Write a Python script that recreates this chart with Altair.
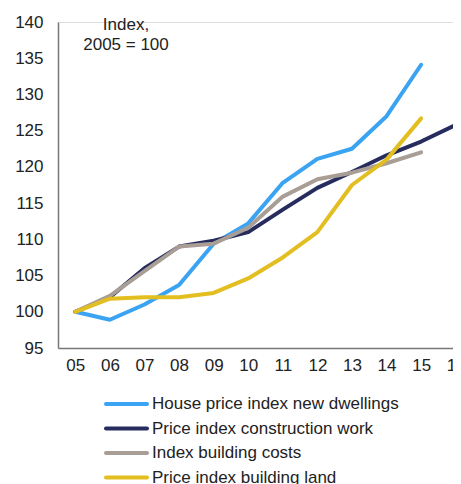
import altair as alt
import pandas as pd

years = ["05", "06", "07", "08", "09", "10", "11", "12", "13", "14", "15", "16"]
series_names = [
    "House price index new dwellings",
    "Price index construction work",
    "Index building costs",
    "Price index building land",
]
house = [100, 98.9, 101.0, 103.7, 109.4, 112.2, 117.8, 121.1, 122.5, 127.0, 134.1, None]
construction = [100, 102.0, 106.0, 109.0, 109.8, 111.0, 114.1, 117.1, 119.3, 121.6, 123.5, 125.8]
costs = [100, 102.2, 105.6, 109.0, 109.4, 111.6, 115.9, 118.3, 119.2, 120.5, 122.0, None]
land = [100, 101.8, 102.0, 102.0, 102.6, 104.6, 107.5, 111.0, 117.5, 121.0, 126.7, None]
colors = ["#3aa3f2", "#262c5e", "#a89e96", "#e3be20"]
y_ticks = [95, 100, 105, 110, 115, 120, 125, 130, 135, 140]
note_lines = ["Index,", "2005 = 100"]

rows = []
for name, vals in zip(series_names, [house, construction, costs, land]):
    for yr, v in zip(years, vals):
        if v is not None:
            rows.append({"year": yr, "value": v, "series": name})
df = pd.DataFrame(rows)

FONT = "Liberation Sans"
FS = 17
color_scale = alt.Scale(domain=series_names, range=colors)

lines = alt.Chart(df).mark_line(strokeWidth=4, strokeJoin="round", strokeCap="round").encode(
    x=alt.X("year:O", scale=alt.Scale(domain=years, range=[0, 415], padding=0.5),
            axis=alt.Axis(title=None, labelAngle=0, ticks=False, labelFontSize=FS,
                          labelColor="#222", labelPadding=9, domainColor="#777",
                          domainWidth=1.5, labelFont=FONT)),
    y=alt.Y("value:Q", scale=alt.Scale(domain=[95, 140], nice=False, zero=False),
            axis=alt.Axis(title=None, values=y_ticks, ticks=False, grid=False,
                          labelFontSize=FS, labelColor="#222", labelPadding=15,
                          domainColor="#777", domainWidth=1.5, labelFont=FONT)),
    color=alt.Color("series:N", scale=color_scale, legend=None),
)

# manual legend below the plot
leg_df = pd.DataFrame({"series": series_names,
                       "ly": [382 + 24.5 * i for i in range(len(series_names))]})
leg_lines = alt.Chart(leg_df).mark_rule(strokeWidth=4, strokeCap="round").encode(
    x=alt.value(48), x2=alt.value(89),
    y=alt.Y("ly:Q", scale=None),
    color=alt.Color("series:N", scale=color_scale, legend=None),
)
leg_text = alt.Chart(leg_df).mark_text(fontSize=FS, font=FONT, color="#222", align="left",
                                       baseline="middle").encode(
    x=alt.value(94),
    y=alt.Y("ly:Q", scale=None),
    text="series:N",
)

note_df = pd.DataFrame({"t": note_lines, "dy": [3, 23]})
note = alt.Chart(note_df).mark_text(fontSize=FS, font=FONT, color="#222", baseline="middle",
                                     align="center").encode(
    text="t:N",
    x=alt.value(68),
    y=alt.Y("dy:Q", scale=None),
)

chart = alt.layer(lines, leg_lines, leg_text, note).properties(
    width=395, height=326,
    autosize=alt.AutoSizeParams(type="none"),
    padding={"left": 50, "top": 14, "right": 0, "bottom": 136},
).configure_view(stroke=None).configure(font=FONT)

chart.save("out.html", embed_options={"renderer": "svg", "actions": False})
